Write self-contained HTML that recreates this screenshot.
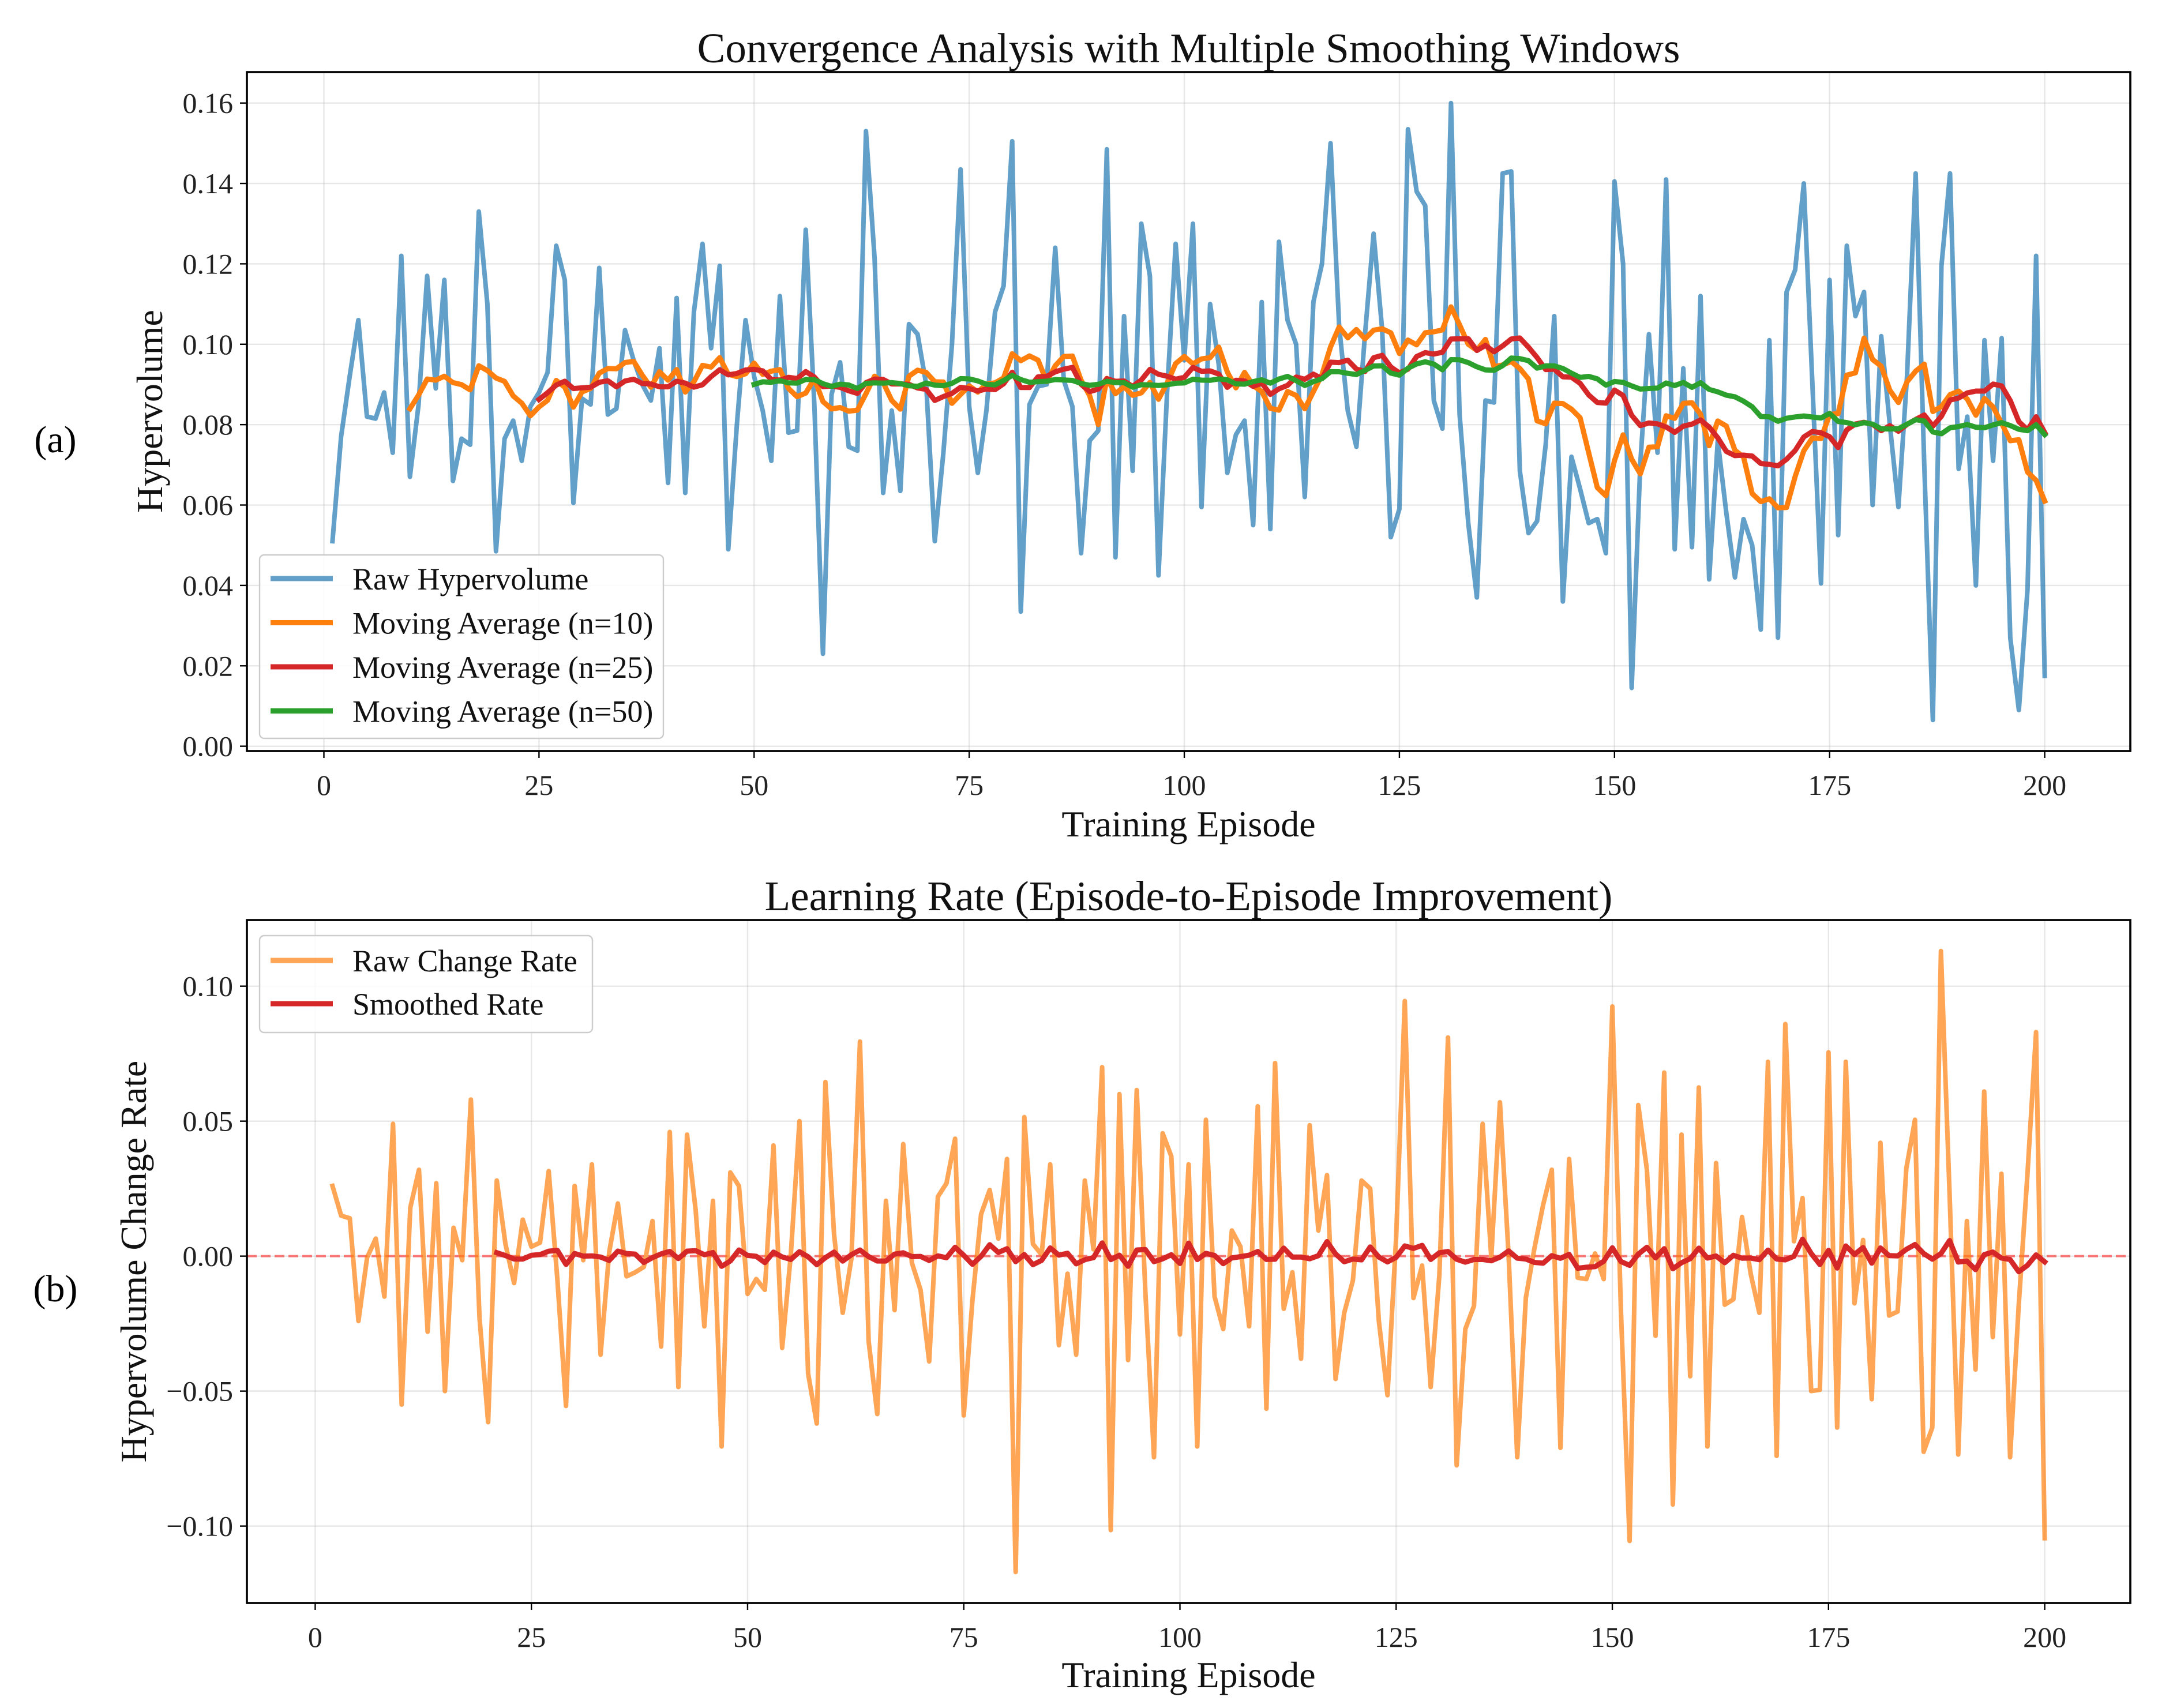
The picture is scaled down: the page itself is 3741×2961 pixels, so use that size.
<!DOCTYPE html>
<html><head><meta charset="utf-8"><style>
html,body{margin:0;padding:0;background:#fff;}
svg{display:block;font-family:"Liberation Serif","DejaVu Serif",serif;}
</style></head><body>
<svg id="fig" width="3741" height="2961" viewBox="0 0 3741 2961" xmlns="http://www.w3.org/2000/svg"></svg>
<script>
const episodes = Array.from({length:200},(_,i)=>i+1);
const rawHypervolume = [
0.051,0.077,0.092,0.106,0.082,0.0815,0.088,0.073,0.122,0.067,
0.085,0.117,0.089,0.116,0.066,0.0765,0.075,0.133,0.110,0.0485,
0.0765,0.081,0.071,0.0845,0.088,0.093,0.1245,0.116,0.0605,0.0865,
0.085,0.119,0.0825,0.084,0.1035,0.096,0.090,0.086,0.099,0.0655,
0.1115,0.063,0.108,0.125,0.099,0.1195,0.049,0.080,0.106,0.092,
0.0835,0.071,0.112,0.078,0.0785,0.1285,0.085,0.023,0.0875,0.0955,
0.0745,0.0735,0.153,0.1215,0.063,0.0835,0.0635,0.105,0.1025,0.090,
0.051,0.073,0.100,0.1435,0.0845,0.068,0.0835,0.108,0.1145,0.1505,
0.0335,0.085,0.0895,0.090,0.124,0.091,0.0845,0.048,0.076,0.0785,
0.1485,0.047,0.107,0.0685,0.130,0.117,0.0425,0.088,0.125,0.096,
0.130,0.0595,0.110,0.095,0.068,0.0775,0.081,0.055,0.1105,0.054,
0.1255,0.106,0.100,0.062,0.1105,0.120,0.150,0.1045,0.0835,0.0745,
0.1025,0.1275,0.1035,0.052,0.059,0.1535,0.138,0.1345,0.086,0.079,
0.160,0.0825,0.0555,0.037,0.086,0.0855,0.1425,0.143,0.0685,0.053,
0.056,0.075,0.107,0.036,0.072,0.064,0.0555,0.0565,0.048,0.1405,
0.120,0.0145,0.0705,0.1025,0.073,0.141,0.049,0.094,0.0495,0.112,
0.0415,0.076,0.058,0.042,0.0565,0.050,0.029,0.101,0.027,0.113,
0.1185,0.140,0.090,0.0405,0.116,0.0525,0.1245,0.107,0.113,0.060,
0.102,0.080,0.0595,0.092,0.1425,0.070,0.0065,0.1195,0.1425,0.069,
0.082,0.040,0.101,0.071,0.1015,0.027,0.009,0.039,0.122,0.0175];
const windows = [10,25,50];
const smoothWindow = 20;
const topYTicks = [0.00,0.02,0.04,0.06,0.08,0.10,0.12,0.14,0.16];
const botYTicks = [-0.10,-0.05,0.00,0.05,0.10];
const xTicks = [0,25,50,75,100,125,150,175,200];

const NS="http://www.w3.org/2000/svg";
const svg=document.getElementById('fig');
function el(tag,attrs,parent){const e=document.createElementNS(NS,tag);for(const k in attrs)e.setAttribute(k,attrs[k]);(parent||svg).appendChild(e);return e;}
function txt(s,attrs,name){const e=el('text',attrs);e.textContent=s;


return e;}
function movAvg(arr,xs,n){const ox=[],oy=[];for(let i=n-1;i<arr.length;i++){let s=0;for(let j=i-n+1;j<=i;j++)s+=arr[j];ox.push(xs[i]);oy.push(s/n);}return [ox,oy];}

const L=428,R=3693;
function makeAxes(top,bottom,xmin,xmax,ymin,ymax){
  return {top,bottom,
   sx:v=>L+(v-xmin)/(xmax-xmin)*(R-L),
   sy:v=>bottom-(v-ymin)/(ymax-ymin)*(bottom-top)};
}
function fmt(v){return (v<0?'\u2212':'')+Math.abs(v).toFixed(2);}
function drawFrame(ax,yt,name){
  const g=el('g',{});
  
  
  xTicks.forEach(t=>{const x=ax.sx(t);el('line',{x1:x,x2:x,y1:ax.top,y2:ax.bottom,stroke:'#b0b0b0','stroke-opacity':0.3,'stroke-width':2.4},g);
    el('line',{x1:x,x2:x,y1:ax.bottom,y2:ax.bottom+12,stroke:'#000','stroke-width':2.4});
    txt(String(t),{x:x,y:ax.bottom+76,'font-size':50,'text-anchor':'middle',fill:'#222'},name+'-x-tick-label');});
  yt.forEach(t=>{const y=ax.sy(t);el('line',{x1:L,x2:R,y1:y,y2:y,stroke:'#b0b0b0','stroke-opacity':0.3,'stroke-width':2.4},g);
    el('line',{x1:L-12,x2:L,y1:y,y2:y,stroke:'#000','stroke-width':2.4});
    txt(fmt(t),{x:L-24,y:y+17,'font-size':50,'text-anchor':'end',fill:'#222'},name+'-y-tick-label');});
}
function frameBorder(ax,name){const r=el('rect',{x:L,y:ax.top,width:R-L,height:ax.bottom-ax.top,fill:'none',stroke:'#000','stroke-width':3.6});
  
  }
function line(ax,xs,ys,color,w,op,name,clip){
  const d=xs.map((x,i)=>(i?'L':'M')+ax.sx(x).toFixed(1)+','+ax.sy(ys[i]).toFixed(1)).join('');
  const p=el('path',{d:d,fill:'none',stroke:color,'stroke-width':w,'stroke-opacity':op,'stroke-linejoin':'round','stroke-linecap':'square','clip-path':'url(#'+clip+')'});
  
  
  return p;
}
const defs=el('defs',{});

// ----- Top chart -----
const axA=makeAxes(125,1302,-8.95,209.95,-0.0012,0.1677);
const cA=el('clipPath',{id:'clipA'},defs);el('rect',{x:L,y:125,width:R-L,height:1177},cA);
drawFrame(axA,topYTicks,'top');
line(axA,episodes,rawHypervolume,'#1f77b4',8,0.7,'raw-hypervolume-line','clipA');
const maColors=['#ff7f0e','#d62728','#2ca02c'];
windows.forEach((n,k)=>{const [mx,my]=movAvg(rawHypervolume,episodes,n);line(axA,mx,my,maColors[k],9,1,'moving-average-n'+n+'-line','clipA');});
frameBorder(axA,'top');
txt('Convergence Analysis with Multiple Smoothing Windows',{x:(L+R)/2,y:108,'font-size':73,'text-anchor':'middle',fill:'#111'},'top-chart-title');
txt('Training Episode',{x:(L+R)/2,y:1450,'font-size':64,'text-anchor':'middle',fill:'#111'},'top-x-axis-title');
txt('Hypervolume',{x:0,y:0,'font-size':64,'text-anchor':'middle',fill:'#111',transform:'translate(281,713) rotate(-90)'},'top-y-axis-title');
txt('(a)',{x:96,y:784,'font-size':66,'text-anchor':'middle',fill:'#000'},'panel-label-a');
// legend top
const lgA=el('rect',{x:450,y:962,width:700,height:318,rx:8,fill:'#fff','fill-opacity':0.85,stroke:'#ccc','stroke-width':2.4});


const legA=[['Raw Hypervolume','#1f77b4',0.7],['Moving Average (n=10)','#ff7f0e',1],['Moving Average (n=25)','#d62728',1],['Moving Average (n=50)','#2ca02c',1]];
legA.forEach((e,i)=>{const y=1003+i*76.5;const s=el('line',{x1:469,x2:577,y1:y,y2:y,stroke:e[1],'stroke-opacity':e[2],'stroke-width':9});
  
  
  txt(e[0],{x:611,y:y+19,'font-size':54,fill:'#111'},'top-legend-entry');});

// ----- Bottom chart -----
const changeX=episodes.slice(1);
const changeRate=rawHypervolume.slice(1).map((v,i)=>v-rawHypervolume[i]);
const [smX,smY]=movAvg(changeRate,changeX,smoothWindow);
const axB=makeAxes(1595,2779,-7.9,209.9,-0.1285,0.1245);
const cB=el('clipPath',{id:'clipB'},defs);el('rect',{x:L,y:1595,width:R-L,height:1184},cB);
drawFrame(axB,botYTicks,'bottom');
const z=el('line',{x1:L,x2:R,y1:axB.sy(0),y2:axB.sy(0),stroke:'#ff0000','stroke-opacity':0.5,'stroke-width':4,'stroke-dasharray':'17,7'});


line(axB,changeX,changeRate,'#ff7f0e',8,0.7,'raw-change-rate-line','clipB');
line(axB,smX,smY,'#d62728',9,1,'smoothed-rate-line','clipB');
frameBorder(axB,'bottom');
txt('Learning Rate (Episode-to-Episode Improvement)',{x:(L+R)/2,y:1578,'font-size':73,'text-anchor':'middle',fill:'#111'},'bottom-chart-title');
txt('Training Episode',{x:(L+R)/2,y:2925,'font-size':64,'text-anchor':'middle',fill:'#111'},'bottom-x-axis-title');
txt('Hypervolume Change Rate',{x:0,y:0,'font-size':64,'text-anchor':'middle',fill:'#111',transform:'translate(253,2187) rotate(-90)'},'bottom-y-axis-title');
txt('(b)',{x:96,y:2256,'font-size':66,'text-anchor':'middle',fill:'#000'},'panel-label-b');
const lgB=el('rect',{x:450,y:1622,width:577,height:168,rx:8,fill:'#fff','fill-opacity':0.85,stroke:'#ccc','stroke-width':2.4});


[['Raw Change Rate','#ff7f0e',0.7],['Smoothed Rate','#d62728',1]].forEach((e,i)=>{const y=1665+i*75;
  const s=el('line',{x1:469,x2:577,y1:y,y2:y,stroke:e[1],'stroke-opacity':e[2],'stroke-width':9});
  
  
  txt(e[0],{x:611,y:y+19,'font-size':54,fill:'#111'},'bottom-legend-entry');});
</script>
</body></html>
